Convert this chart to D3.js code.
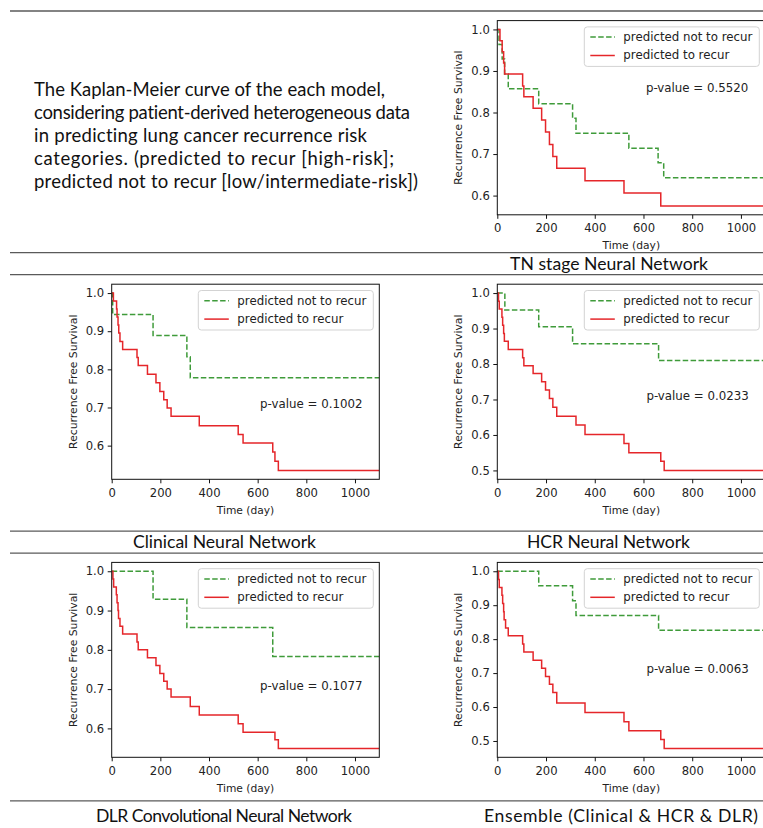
<!DOCTYPE html>
<html><head><meta charset="utf-8">
<script src="https://cdn.jsdelivr.net/npm/d3@7/dist/d3.min.js"></script>
<style>html,body{margin:0;padding:0;background:#fff;} svg{display:block;} text{font-variant-ligatures:none;}</style>
</head><body>
<svg id="fig" width="763" height="828"></svg>
<script>
// ---------- data ----------
const xTicks = [0, 200, 400, 600, 800, 1000];
const yTicks = [0.5, 0.6, 0.7, 0.8, 0.9, 1.0];
const seriesNames = ["predicted not to recur", "predicted to recur"];
const modelNames = ["TN stage Neural Network", "Clinical Neural Network", "HCR Neural Network",
  "DLR Convolutional Neural Network", "Ensemble (Clinical & HCR & DLR)"];
const pValues = ["0.5520", "0.1002", "0.0233", "0.1077", "0.0063"];
const captionLines = [
  "The Kaplan-Meier curve of the each model,",
  "considering patient-derived heterogeneous data",
  "in predicting lung cancer recurrence risk",
  "categories. (predicted to recur [high-risk];",
  "predicted not to recur [low/intermediate-risk])"
];

// TN stage
const tnLowDays  = [7, 20, 30, 45, 170, 309, 323, 540, 660, 683];
const tnLowSurv  = [0.964, 0.929, 0.893, 0.857, 0.821, 0.786, 0.750, 0.714, 0.679, 0.643];
const tnHighDays = [11, 20, 26, 30, 104, 109, 147, 182, 198, 214, 228, 244, 360, 520, 671];
const tnHighSurv = [0.973, 0.946, 0.919, 0.893, 0.864, 0.838, 0.810, 0.782, 0.753, 0.723, 0.694, 0.666, 0.636, 0.606, 0.575];
// Clinical
const clinLowDays  = [4, 170, 309, 323];
const clinLowSurv  = [0.944, 0.889, 0.833, 0.778];
const clinHighDays = [7, 20, 22, 26, 29, 34, 45, 104, 109, 147, 182, 198, 214, 228, 244, 360, 520, 540, 662, 671, 685];
const clinHighSurv = [0.979, 0.958, 0.937, 0.916, 0.895, 0.873, 0.852, 0.831, 0.810, 0.787, 0.765, 0.742, 0.720, 0.699, 0.677, 0.652, 0.629, 0.607, 0.583, 0.559, 0.535];
// HCR
const hcrLowDays  = [31, 170, 309, 662];
const hcrLowSurv  = [0.952, 0.905, 0.857, 0.810];
const hcrHighDays = [5, 8, 19, 22, 26, 29, 45, 104, 109, 147, 182, 198, 214, 228, 244, 323, 360, 520, 540, 671, 685];
const hcrHighSurv = [0.977, 0.955, 0.932, 0.909, 0.886, 0.864, 0.841, 0.818, 0.795, 0.773, 0.750, 0.727, 0.703, 0.678, 0.653, 0.628, 0.601, 0.576, 0.550, 0.526, 0.500];
// DLR
const dlrLowDays  = [170, 309, 662];
const dlrLowSurv  = [0.929, 0.857, 0.783];
const dlrHighDays = [5, 8, 19, 22, 26, 28, 34, 45, 104, 109, 147, 182, 198, 214, 228, 244, 323, 360, 520, 540, 671, 685];
const dlrHighSurv = [0.98, 0.96, 0.94, 0.92, 0.90, 0.88, 0.86, 0.84, 0.82, 0.80, 0.78, 0.76, 0.74, 0.72, 0.70, 0.68, 0.656, 0.634, 0.612, 0.590, 0.571, 0.549];
// Ensemble
const ensLowDays  = [170, 309, 323, 662];
const ensLowSurv  = [0.957, 0.913, 0.870, 0.826];
const ensHighDays = [5, 8, 19, 22, 26, 28, 34, 45, 104, 109, 147, 182, 198, 214, 228, 244, 360, 520, 540, 671, 685];
const ensHighSurv = [0.976, 0.952, 0.929, 0.905, 0.881, 0.857, 0.833, 0.810, 0.786, 0.762, 0.738, 0.714, 0.690, 0.667, 0.643, 0.612, 0.584, 0.557, 0.530, 0.504, 0.478];

const xMax = 1100;

const panelData = [
  {low: [tnLowDays, tnLowSurv],     high: [tnHighDays, tnHighSurv]},
  {low: [clinLowDays, clinLowSurv], high: [clinHighDays, clinHighSurv]},
  {low: [hcrLowDays, hcrLowSurv],   high: [hcrHighDays, hcrHighSurv]},
  {low: [dlrLowDays, dlrLowSurv],   high: [dlrHighDays, dlrHighSurv]},
  {low: [ensLowDays, ensLowSurv],   high: [ensHighDays, ensHighSurv]}
];

// ---------- layout (positions only) ----------
const layout = [
  {left: 497.3, top: 20.6, w: 268, h: 194.2, tx: 609,   ty: 269.5, tw: 198, pDay: 610, pVal: 0.859},
  {left: 111.7, top: 284.2, w: 267.6, h: 195.1, tx: 224.5, ty: 548, tw: 183, pDay: 610, pVal: 0.709},
  {left: 497.3, top: 284.2, w: 268, h: 195.1, tx: 608.5, ty: 548, tw: 163, pDay: 612, pVal: 0.711},
  {left: 111.7, top: 562.4, w: 267.6, h: 194.9, tx: 224,   ty: 821.5, tw: 256, pDay: 610, pVal: 0.707},
  {left: 497.3, top: 562.4, w: 268, h: 194.9, tx: 621,   ty: 821.5, tw: 274, pDay: 612, pVal: 0.712}
];
const captionWidths = [351, 376, 333, 360, 384];
const rules = [11, 252.6, 274.6, 531.2, 553.2, 800.8];

const GREEN = "#3f9b3a", RED = "#e5262a";
const svg = d3.select("#fig");

// rules
svg.selectAll("line.rule").data(rules).join("line").attr("class", "rule")
  .attr("x1", 10).attr("x2", 763).attr("y1", d => d).attr("y2", d => d)
  .attr("stroke", "#5a5a5a").attr("stroke-width", 1.3);

// caption
const cap = svg.append("g").attr("font-family", "Lato, 'Open Sans', sans-serif").attr("fill", "#111");
const capTexts = cap.selectAll("text").data(captionLines).join("text")
  .attr("x", 34).attr("y", (d, i) => 96 + i * 23.1).attr("font-size", 17).text(d => d);
{
  const nodes = capTexts.nodes();
  const ratio = d3.mean([0, 1, 2], k => captionWidths[k] / nodes[k].getComputedTextLength());
  capTexts.attr("font-size", 17 * ratio);
  capTexts.attr("textLength", (d, i) => captionWidths[i]).attr("lengthAdjust", "spacing");
}

const stepLine = (xs, ys) => d3.line().curve(d3.curveStepAfter).x(d => xs(d[0])).y(d => ys(d[1]));

const titles = [];
panelData.forEach((pd, i) => {
  const L = layout[i];
  const minV = d3.min(pd.high[1].concat(pd.low[1]));
  const span = 1 - minV;
  const x = d3.scaleLinear().domain([0, xMax]).range([L.left, L.left + L.w]);
  const y = d3.scaleLinear().domain([minV - 0.05 * span, 1 + 0.05 * span]).range([L.top + L.h, L.top]);
  const g = svg.append("g");
  const clipId = "clip" + i;
  g.append("clipPath").attr("id", clipId).append("rect")
    .attr("x", L.left).attr("y", L.top).attr("width", L.w).attr("height", L.h);

  const series = [
    {pts: [[0, 1]].concat(pd.low[0].map((t, k) => [t, pd.low[1][k]])), color: GREEN, dash: "5.5,2.4"},
    {pts: [[0, 1]].concat(pd.high[0].map((t, k) => [t, pd.high[1][k]])), color: RED, dash: null}
  ];
  series.forEach(s => { s.pts.push([xMax, s.pts[s.pts.length - 1][1]]); });
  const plot = g.append("g").attr("clip-path", `url(#${clipId})`);
  series.forEach(s => {
    plot.append("path").datum(s.pts).attr("d", stepLine(x, y))
      .attr("fill", "none").attr("stroke", s.color).attr("stroke-width", 1.5)
      .attr("stroke-dasharray", s.dash);
  });

  // axes
  const yt = yTicks.filter(v => v >= y.domain()[0] && v <= y.domain()[1]);
  const xa = g.append("g").attr("transform", `translate(0,${L.top + L.h})`)
    .call(d3.axisBottom(x).tickValues(xTicks).tickSize(4).tickPadding(5.3).tickFormat(d3.format("d")));
  const ya = g.append("g").attr("transform", `translate(${L.left},0)`)
    .call(d3.axisLeft(y).tickValues(yt).tickSize(4).tickPadding(3.5).tickFormat(d3.format(".1f")));
  [xa, ya].forEach(a => {
    a.select(".domain").remove();
    a.selectAll("line").attr("stroke", "#111").attr("stroke-width", 1);
    a.selectAll("text").attr("font-family", "'DejaVu Sans', sans-serif").attr("font-size", 11.6).attr("fill", "#222");
  });
  g.append("rect").attr("x", L.left).attr("y", L.top).attr("width", L.w).attr("height", L.h)
    .attr("fill", "none").attr("stroke", "#111").attr("stroke-width", 1);

  // axis labels
  g.append("text").attr("x", L.left + L.w / 2).attr("y", L.top + L.h + 34.5)
    .attr("text-anchor", "middle").attr("font-family", "'DejaVu Sans', sans-serif").attr("font-size", 10.7)
    .attr("fill", "#222").text("Time (day)");
  g.append("text").attr("transform", `translate(${L.left - 38.5},${L.top + L.h / 2}) rotate(-90)`)
    .attr("text-anchor", "middle").attr("dominant-baseline", "central")
    .attr("font-family", "'DejaVu Sans', sans-serif").attr("font-size", 10.8)
    .attr("fill", "#222").text("Recurrence Free Survival");

  // legend
  const lgW = 175, lgH = 39.5;
  const lx = L.left + L.w - 6 - lgW, ly = L.top + 6.3;
  const lg = g.append("g").attr("transform", `translate(${lx},${ly})`);
  lg.append("rect").attr("width", lgW).attr("height", lgH).attr("rx", 3)
    .attr("fill", "#fff").attr("fill-opacity", 0.85).attr("stroke", "#d3d3d3").attr("stroke-width", 1);
  series.forEach((s, k) => {
    const yy = 10.2 + k * 18.4;
    lg.append("line").attr("x1", 6).attr("x2", 30.5).attr("y1", yy).attr("y2", yy)
      .attr("stroke", s.color).attr("stroke-width", 1.5).attr("stroke-dasharray", s.dash);
    lg.append("text").attr("x", 39).attr("y", yy).attr("dominant-baseline", "central")
      .attr("font-family", "'DejaVu Sans', sans-serif").attr("font-size", 11.8).attr("fill", "#222")
      .text(seriesNames[k]);
  });

  // p-value
  g.append("text").attr("x", x(L.pDay)).attr("y", y(L.pVal)).attr("dominant-baseline", "central")
    .attr("font-family", "'DejaVu Sans', sans-serif").attr("font-size", 11.8).attr("fill", "#222")
    .text("p-value = " + pValues[i]);

  // title
  titles.push(svg.append("text").attr("x", L.tx).attr("y", L.ty).attr("text-anchor", "middle")
    .attr("font-family", "Lato, 'Open Sans', sans-serif").attr("font-size", 18).attr("fill", "#111")
    .text(modelNames[i]));
});
// title size: fit to the mean of reference widths, then adjust spacing per title
{
  const ratio = d3.mean(titles, (t, k) => layout[k].tw / t.node().getComputedTextLength());
  titles.forEach((t, k) => t.attr("font-size", 18 * Math.min(ratio, 1.06))
    .attr("textLength", layout[k].tw).attr("lengthAdjust", "spacing"));
}
</script>
</body></html>
